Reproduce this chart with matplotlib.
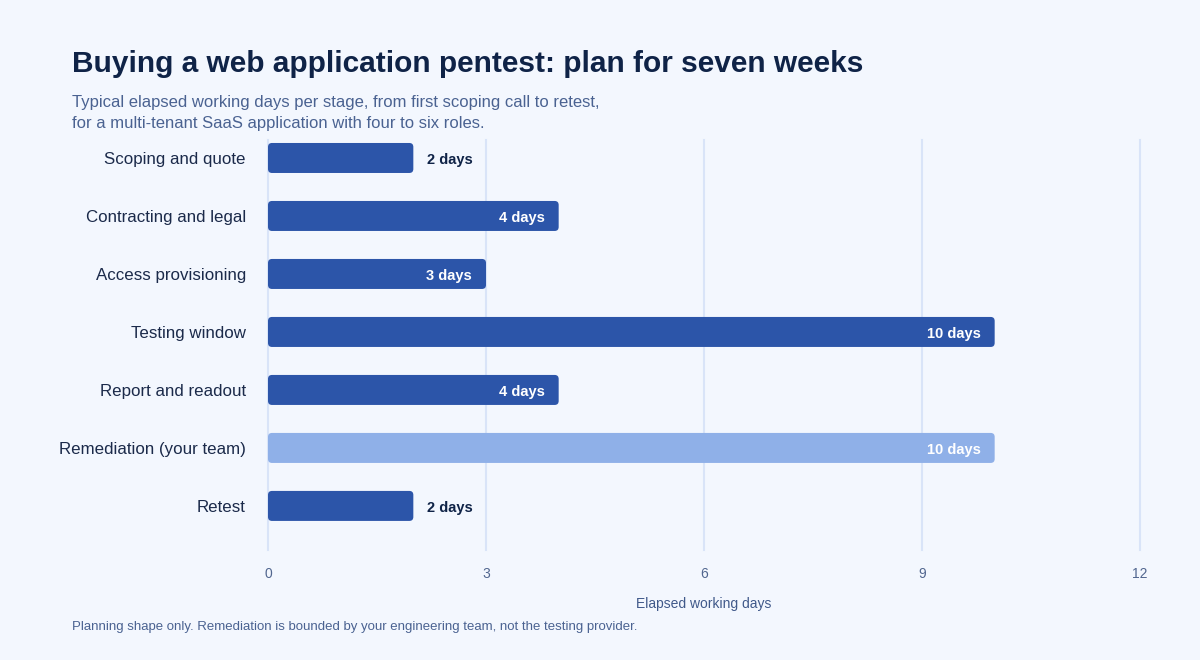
import matplotlib
matplotlib.use("Agg")
import matplotlib.pyplot as plt
from matplotlib.patches import FancyBboxPatch

plt.rcParams['font.family'] = ['Liberation Sans', 'DejaVu Sans']

# data
stages = ["Scoping and quote", "Contracting and legal", "Access provisioning",
          "Testing window", "Report and readout", "Remediation (your team)", "Retest"]
days = [2, 4, 3, 10, 4, 10, 2]
owner = ["provider", "provider", "provider", "provider", "provider", "client", "provider"]
xticks = [0, 3, 6, 9, 12]

BG = "#F3F7FE"
DARK = "#2C55A9"
LIGHT = "#8FB0E8"
NAVY = "#0F2347"
MUTED = "#4A6291"
GRID = "#D9E4F8"

fig = plt.figure(figsize=(12, 6.6), dpi=100, facecolor=BG)
ax = fig.add_axes([268 / 1200, 1 - 550 / 660, 872 / 1200, 410 / 660])
ax.set_facecolor(BG)

ax.set_xlim(0, 12)
ylo, yhi = 6.76, -0.31
ax.set_ylim(ylo, yhi)

# data units per pixel, for rounded corners
xpp = 12 / 872
ypp = (ylo - yhi) / 410
h = 30 * ypp
r = 4 * xpp

for i, (d, who) in enumerate(zip(days, owner)):
    col = LIGHT if who == "client" else DARK
    p = FancyBboxPatch((0, i - h / 2), d, h,
                       boxstyle="round,pad=0,rounding_size=%f" % r,
                       mutation_aspect=ypp / xpp,
                       facecolor=col, edgecolor="none", zorder=3)
    ax.add_patch(p)
    lab = "%d days" % d
    if d >= 3:
        ax.text(d - 14 * xpp, i + ypp, lab, ha="right", va="center_baseline", color="white",
                fontsize=10.5, fontweight="bold", zorder=4)
    else:
        ax.text(d + 14 * xpp, i + ypp, lab, ha="left", va="center_baseline", color=NAVY,
                fontsize=10.5, fontweight="bold", zorder=4)

ax.set_yticks(range(len(stages)))
ax.set_yticklabels(stages, fontsize=12.2, color="#1B2A4A")
ax.set_xticks(xticks)
ax.set_xticklabels([str(t) for t in xticks], fontsize=10, color="#51668F")
ax.tick_params(axis="y", length=0, pad=16)
ax.tick_params(axis="x", length=0, pad=12.5)
ax.grid(axis="x", color=GRID, linewidth=1.5, zorder=0)
for gl in ax.get_xgridlines():
    gl.set_clip_on(False)
for s in ax.spines.values():
    s.set_visible(False)

ax.set_xlabel("Elapsed working days", fontsize=10, color="#40598A", labelpad=11)

fig.text(72 / 1200, 1 - 72 / 660, "Buying a web application pentest: plan for seven weeks",
         fontsize=21.5, fontweight="bold", color=NAVY, ha="left", va="baseline")
fig.text(72 / 1200, 1 - 107 / 660, "Typical elapsed working days per stage, from first scoping call to retest,",
         fontsize=12, color=MUTED, ha="left", va="baseline")
fig.text(72 / 1200, 1 - 128 / 660, "for a multi-tenant SaaS application with four to six roles.",
         fontsize=12, color=MUTED, ha="left", va="baseline")
fig.text(72 / 1200, 1 - 630 / 660,
         "Planning shape only. Remediation is bounded by your engineering team, not the testing provider.",
         fontsize=9.5, color=MUTED, ha="left", va="baseline")

fig.savefig("out.png", dpi=100, facecolor=BG)
